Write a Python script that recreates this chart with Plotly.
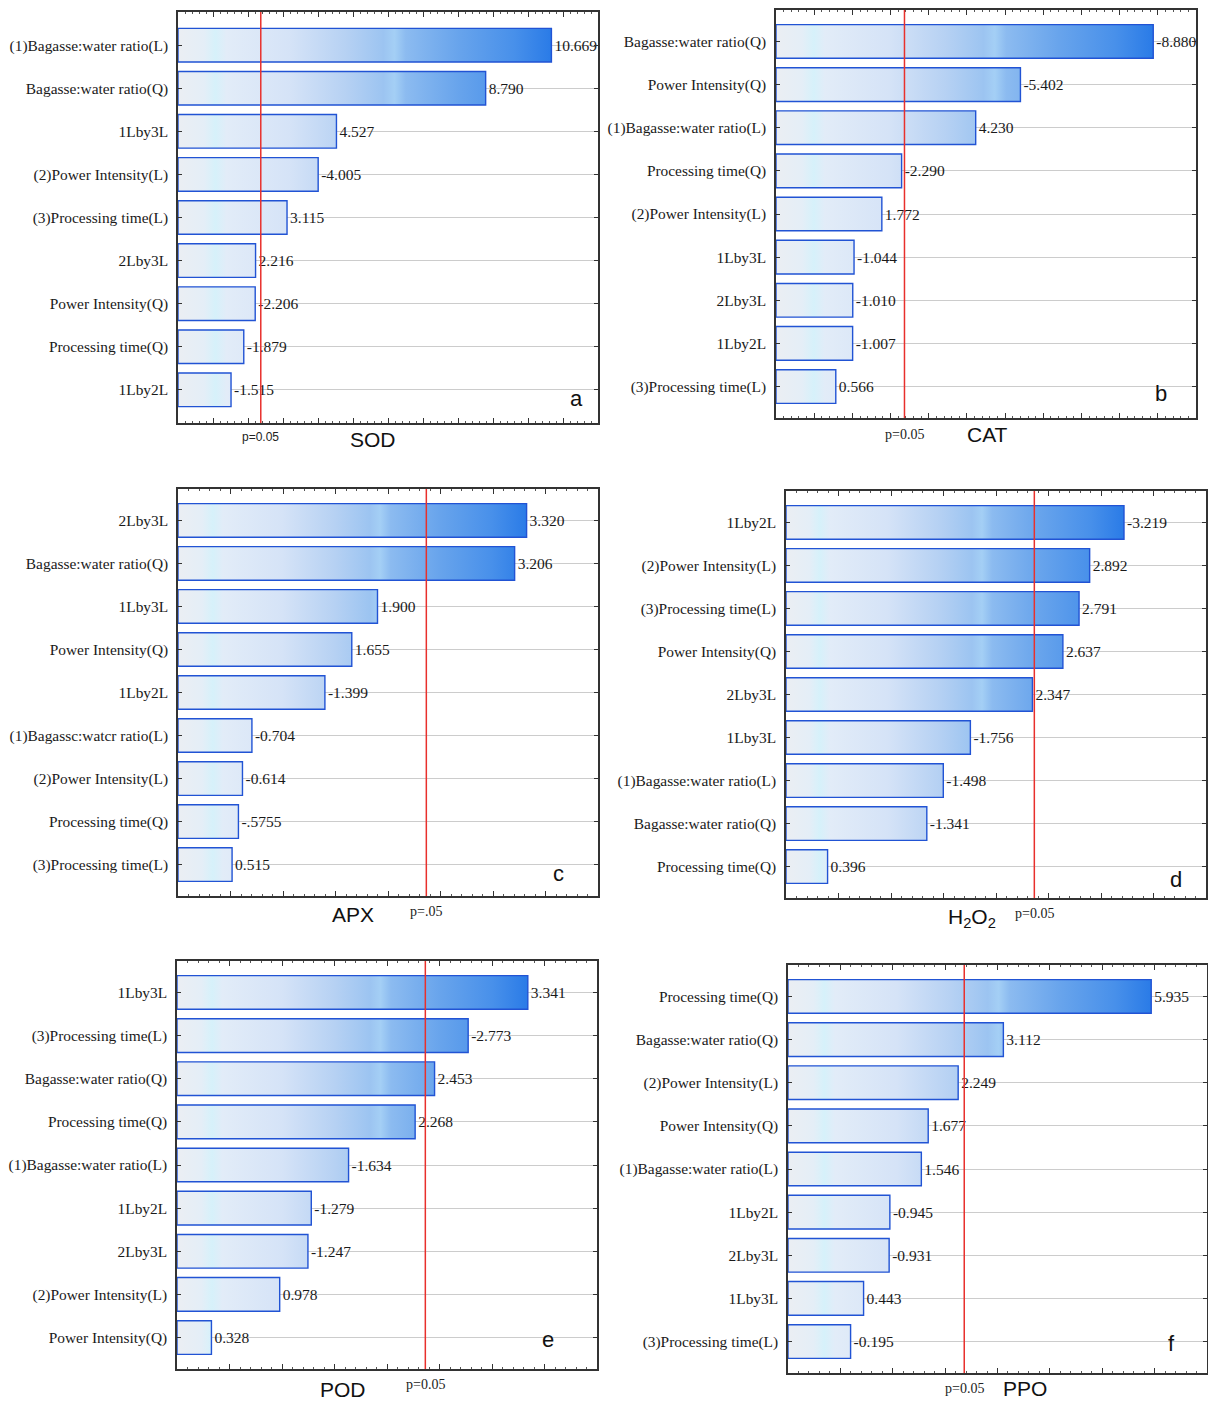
import plotly.graph_objects as go

W, H = 1208, 1402
T_CRIT = 2.365  # t value for p = 0.05

# ---------------- data ----------------
sod_labels = ["(1)Bagasse:water ratio(L)", "Bagasse:water ratio(Q)", "1Lby3L",
              "(2)Power Intensity(L)", "(3)Processing time(L)", "2Lby3L",
              "Power Intensity(Q)", "Processing time(Q)", "1Lby2L"]
sod_values = [10.669, 8.790, 4.527, -4.005, 3.115, 2.216, -2.206, -1.879, -1.515]
sod_text = ["10.669", "8.790", "4.527", "-4.005", "3.115", "2.216", "-2.206", "-1.879", "-1.515"]

cat_labels = ["Bagasse:water ratio(Q)", "Power Intensity(Q)", "(1)Bagasse:water ratio(L)",
              "Processing time(Q)", "(2)Power Intensity(L)", "1Lby3L", "2Lby3L",
              "1Lby2L", "(3)Processing time(L)"]
cat_values = [-8.880, -5.402, 4.230, -2.290, 1.772, -1.044, -1.010, -1.007, 0.566]
cat_text = ["-8.880", "-5.402", "4.230", "-2.290", "1.772", "-1.044", "-1.010", "-1.007", "0.566"]

apx_labels = ["2Lby3L", "Bagasse:water ratio(Q)", "1Lby3L", "Power Intensity(Q)", "1Lby2L",
              "(1)Bagassc:watcr ratio(L)", "(2)Power Intensity(L)", "Processing time(Q)",
              "(3)Processing time(L)"]
apx_values = [3.320, 3.206, 1.900, 1.655, -1.399, -0.704, -0.614, -0.5755, 0.515]
apx_text = ["3.320", "3.206", "1.900", "1.655", "-1.399", "-0.704", "-0.614", "-.5755", "0.515"]

h2o2_labels = ["1Lby2L", "(2)Power Intensity(L)", "(3)Processing time(L)", "Power Intensity(Q)",
               "2Lby3L", "1Lby3L", "(1)Bagasse:water ratio(L)", "Bagasse:water ratio(Q)",
               "Processing time(Q)"]
h2o2_values = [-3.219, 2.892, 2.791, 2.637, 2.347, -1.756, -1.498, -1.341, 0.396]
h2o2_text = ["-3.219", "2.892", "2.791", "2.637", "2.347", "-1.756", "-1.498", "-1.341", "0.396"]

pod_labels = ["1Lby3L", "(3)Processing time(L)", "Bagasse:water ratio(Q)", "Processing time(Q)",
              "(1)Bagasse:water ratio(L)", "1Lby2L", "2Lby3L", "(2)Power Intensity(L)",
              "Power Intensity(Q)"]
pod_values = [3.341, -2.773, 2.453, 2.268, -1.634, -1.279, -1.247, 0.978, 0.328]
pod_text = ["3.341", "-2.773", "2.453", "2.268", "-1.634", "-1.279", "-1.247", "0.978", "0.328"]

ppo_labels = ["Processing time(Q)", "Bagasse:water ratio(Q)", "(2)Power Intensity(L)",
              "Power Intensity(Q)", "(1)Bagasse:water ratio(L)", "1Lby2L", "2Lby3L",
              "1Lby3L", "(3)Processing time(L)"]
ppo_values = [5.935, 3.112, 2.249, 1.677, 1.546, -0.945, -0.931, 0.443, -0.195]
ppo_text = ["5.935", "3.112", "2.249", "1.677", "1.546", "-0.945", "-0.931", "0.443", "-0.195"]

# ---------------- layout spec ----------------
panels = [
    dict(title="SOD", letter="a", labels=sod_labels, values=sod_values, text=sod_text,
         xr=(0, 12), dtick=1, frame=(178, 598, 12, 423), pad=0.77,
         ptext="p=0.05", psans=True, pxy=437, txy=(373, 439), lxy=(576, 398)),
    dict(title="CAT", letter="b", labels=cat_labels, values=cat_values, text=cat_text,
         xr=(-1, 10), dtick=1, frame=(776, 1196, 10, 418), pad=0.73,
         ptext="p=0.05", psans=False, pxy=434, txy=(987, 434), lxy=(1161, 393)),
    dict(title="APX", letter="c", labels=apx_labels, values=apx_values, text=apx_text,
         xr=(0, 4), dtick=0.5, frame=(178, 598, 489, 896), pad=0.73,
         ptext="p=.05", psans=False, pxy=911, txy=(353, 914), lxy=(558, 873)),
    dict(title="H<sub>2</sub>O<sub>2</sub>", letter="d", labels=h2o2_labels, values=h2o2_values,
         text=h2o2_text, xr=(0, 4), dtick=0.5, frame=(786, 1206, 491, 898), pad=0.73,
         ptext="p=0.05", psans=False, pxy=913, txy=(972, 918), lxy=(1176, 880)),
    dict(title="POD", letter="e", labels=pod_labels, values=pod_values, text=pod_text,
         xr=(0, 4), dtick=0.5, frame=(177, 597, 961, 1369), pad=0.73,
         ptext="p=0.05", psans=False, pxy=1384, txy=(343, 1389), lxy=(548, 1339)),
    dict(title="PPO", letter="f", labels=ppo_labels, values=ppo_values, text=ppo_text,
         xr=(-1, 7), dtick=1, frame=(788, 1207, 965, 1373), pad=0.73,
         ptext="p=0.05", psans=False, pxy=1388, txy=(1025, 1388), lxy=(1171, 1343)),
]

SERIF = "Liberation Serif, Times New Roman, serif"
SANS = "Liberation Sans, Arial, sans-serif"
GRAD = [[0.0, "#ebeef3"], [0.07, "#e4eef7"], [0.10, "#d6f1fa"], [0.13, "#e2ecf8"],
        [0.30, "#d5e3f7"], [0.45, "#b6d1f3"], [0.55, "#9cc4f1"], [0.58, "#a4cff5"],
        [0.61, "#8cbbf0"], [0.75, "#68a4ec"], [0.90, "#4890ea"], [1.0, "#2a7be7"]]
BAR_W = 0.78

fig = go.Figure()
layout = dict(width=W, height=H, margin=dict(l=0, r=0, t=0, b=0),
              paper_bgcolor="white", plot_bgcolor="white", showlegend=False)
annotations = []
shapes = []

for k, p in enumerate(panels):
    i = k + 1
    xa = "x" if i == 1 else f"x{i}"
    ya = "y" if i == 1 else f"y{i}"
    xkey = "xaxis" if i == 1 else f"xaxis{i}"
    ykey = "yaxis" if i == 1 else f"yaxis{i}"
    x0p, x1p, y0p, y1p = p["frame"]
    xmin, xmax = p["xr"]
    n = len(p["values"])
    mags = [abs(v) for v in p["values"]]
    pos = list(range(n))

    # gradient-filled bars (one polygon per effect, built from the values)
    px, py = [], []
    for j, m in enumerate(mags):
        px += [xmin, m, m, xmin, xmin, None]
        py += [j - BAR_W / 2, j - BAR_W / 2, j + BAR_W / 2, j + BAR_W / 2, j - BAR_W / 2, None]
    fig.add_trace(go.Scatter(
        x=px, y=py, xaxis=xa, yaxis=ya, mode="lines", fill="toself",
        fillgradient=dict(type="horizontal", colorscale=GRAD, start=xmin, stop=max(mags)),
        line=dict(color="#2153d4", width=1.4), hoverinfo="skip"))

    # bars carrying the value labels
    fig.add_trace(go.Bar(
        y=pos, x=[m - xmin for m in mags], base=xmin, orientation="h", width=BAR_W,
        xaxis=xa, yaxis=ya, marker=dict(color="rgba(0,0,0,0)", line=dict(width=0)),
        text=p["text"], textposition="outside", constraintext="none", cliponaxis=False,
        textfont=dict(family=SERIF, size=15.5, color="#1a1a1a"), hoverinfo="skip"))

    layout[xkey] = dict(
        domain=[x0p / W, x1p / W], range=[xmin, xmax], anchor=ya,
        showgrid=False, zeroline=False, showticklabels=False,
        ticks="inside", ticklen=5, tickcolor="#333333", tick0=0, dtick=p["dtick"],
        minor=dict(ticks="inside", ticklen=2.5, tickcolor="#555555", dtick=p["dtick"] / 5),
        showline=True, linecolor="#333333", linewidth=1.5, mirror="allticks")
    layout[ykey] = dict(
        domain=[1 - y1p / H, 1 - y0p / H], range=[n - 1 + p["pad"], -p["pad"]], anchor=xa,
        tickmode="array", tickvals=pos, ticktext=p["labels"],
        tickfont=dict(family=SERIF, size=15.4, color="#1a1a1a"),
        showgrid=True, gridcolor="#cccccc", gridwidth=1, zeroline=False,
        ticks="inside", ticklen=4, tickcolor="#333333", ticklabelstandoff=5,
        showline=True, linecolor="#333333", linewidth=1.5, mirror="allticks")

    # p = 0.05 reference line
    shapes.append(dict(type="line", xref=xa, yref=f"{ya} domain", x0=T_CRIT, x1=T_CRIT,
                       y0=0, y1=1, line=dict(color="#e8302c", width=1.5), layer="above"))

    annotations.append(dict(xref=xa, yref="paper", x=T_CRIT, y=1 - p["pxy"] / H,
                            text=p["ptext"], showarrow=False, xanchor="center", yanchor="middle",
                            font=dict(family=SANS if p["psans"] else SERIF,
                                      size=12 if p["psans"] else 14, color="#222222")))
    annotations.append(dict(xref="paper", yref="paper", x=p["txy"][0] / W, y=1 - p["txy"][1] / H,
                            text=p["title"], showarrow=False, xanchor="center", yanchor="middle",
                            font=dict(family=SANS, size=21, color="#111111")))
    annotations.append(dict(xref="paper", yref="paper", x=p["lxy"][0] / W, y=1 - p["lxy"][1] / H,
                            text=p["letter"], showarrow=False, xanchor="center", yanchor="middle",
                            font=dict(family=SANS, size=22, color="#111111")))

layout["annotations"] = annotations
layout["shapes"] = shapes
fig.update_layout(**layout)
fig.write_html("out.html")
